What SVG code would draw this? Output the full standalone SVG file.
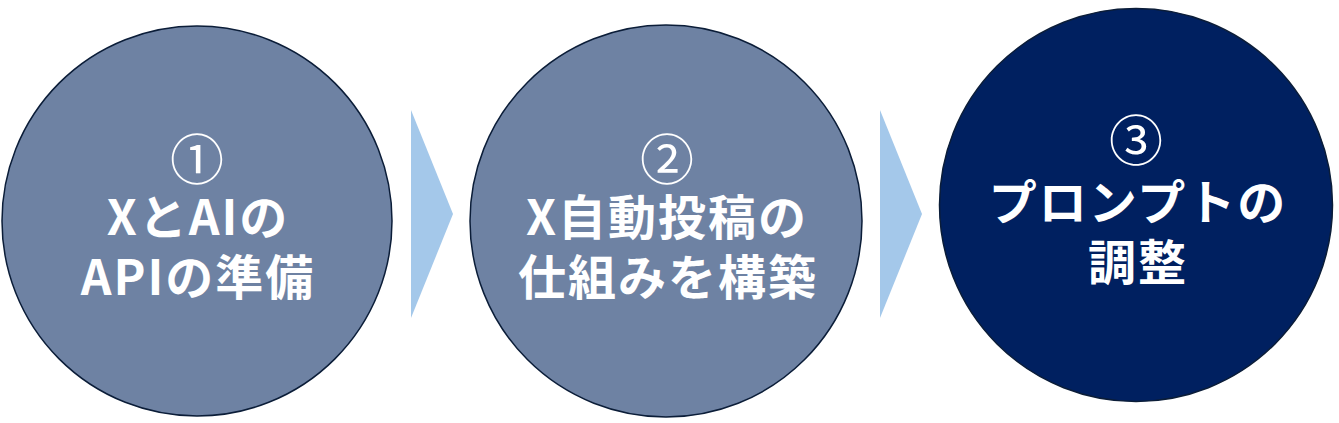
<svg xmlns="http://www.w3.org/2000/svg" width="1339" height="423" viewBox="0 0 1339 423">
  <style>
    .bg { fill: #ffffff; }
    .step { fill: #6e82a3; stroke: #0b1d38; stroke-width: 1.5; }
    .step-dark { fill: #002060; stroke: #0b1d38; stroke-width: 1.5; }
    .arrow { fill: #a4c8ea; }
    .lbl { font-family: "Noto Sans CJK JP", "Noto Sans", sans-serif; font-size: 48px; font-weight: 700; fill: #ffffff; text-anchor: middle; letter-spacing: 2px; }
    .num { font-size: 54px; font-weight: 400; letter-spacing: 0; }
  </style>
  <rect class="bg" x="0" y="0" width="1339" height="423"/>
  <g id="connectors">
    <polygon class="arrow" points="411,110 453,214 411,318"/>
    <polygon class="arrow" points="880,110 922,214 880,318"/>
  </g>
  <g id="step1">
    <circle class="step" cx="197" cy="221" r="195"/>
    <text class="lbl"><tspan class="num" x="197" y="180">①</tspan><tspan x="198" y="235">XとAIの</tspan><tspan x="198" y="295">APIの準備</tspan></text>
  </g>
  <g id="step2">
    <circle class="step" cx="666" cy="221" r="196"/>
    <text class="lbl"><tspan class="num" x="667" y="180">②</tspan><tspan x="667" y="235">X自動投稿の</tspan><tspan x="668" y="295">仕組みを構築</tspan></text>
  </g>
  <g id="step3">
    <circle class="step-dark" cx="1136" cy="205" r="196.5"/>
    <text class="lbl"><tspan class="num" x="1136" y="161">③</tspan><tspan x="1138" y="220">プロンプトの</tspan><tspan x="1138" y="280">調整</tspan></text>
  </g>
</svg>
